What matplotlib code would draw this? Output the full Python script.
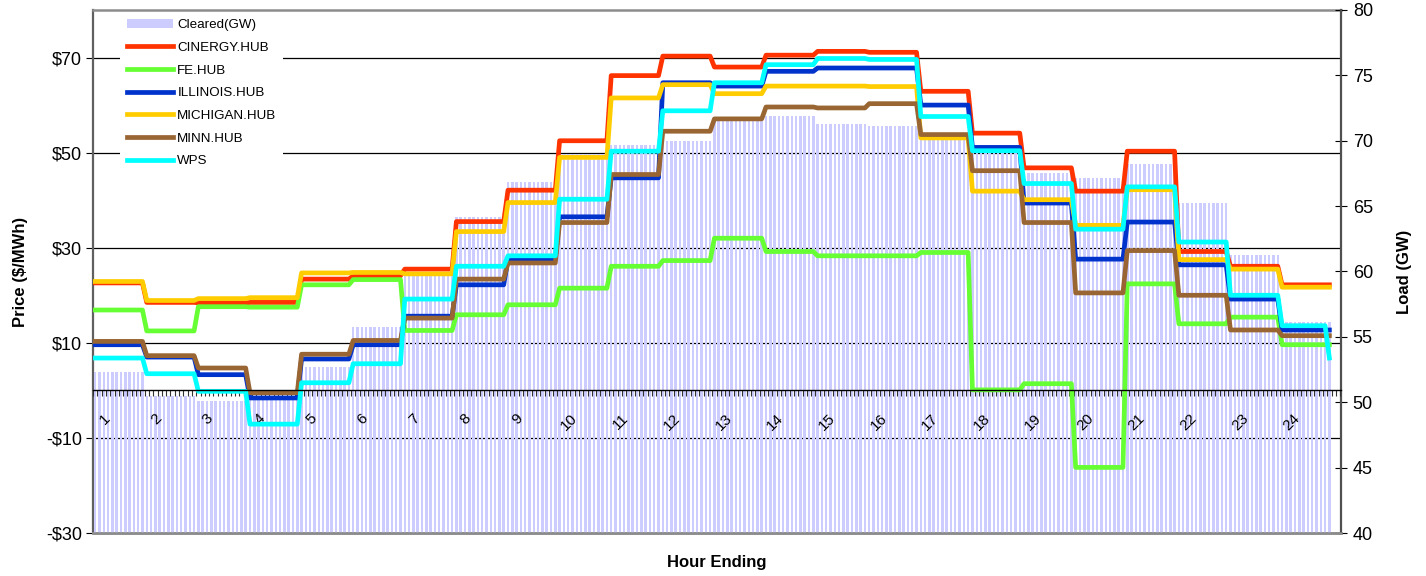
import numpy as np
import matplotlib
matplotlib.use("Agg")
import matplotlib.pyplot as plt
from matplotlib.ticker import MultipleLocator, FixedLocator

plt.rcParams["font.family"] = ["Liberation Sans", "DejaVu Sans"]

# hourly LMPs ($/MWh), hour ending 1..24
hours = [str(h) for h in range(1, 25)]
cinergy = [22.6, 18.5, 18.4, 18.5, 23.4, 24.1, 25.5, 35.5, 42.1, 52.5, 66.2, 70.3,
           68.0, 70.5, 71.3, 71.1, 62.9, 54.1, 46.8, 41.9, 50.3, 29.2, 26.1, 22.2]
fe_hub = [16.9, 12.5, 17.6, 17.5, 22.2, 23.3, 12.6, 15.9, 18.0, 21.5, 26.1, 27.3,
          32.0, 29.2, 28.3, 28.3, 29.0, 0.1, 1.4, -16.2, 22.4, 14.0, 15.4, 9.6]
illinois = [9.6, 7.0, 3.3, -1.6, 6.6, 9.6, 15.6, 22.2, 27.6, 36.5, 44.7, 64.7,
            64.0, 67.1, 67.8, 67.8, 60.0, 51.1, 39.4, 27.6, 35.4, 26.4, 19.2, 12.7]
michigan = [22.9, 18.9, 19.3, 19.5, 24.7, 24.8, 24.5, 33.4, 39.5, 49.0, 61.5, 64.3,
            62.4, 64.0, 64.0, 63.9, 53.1, 41.9, 40.1, 34.7, 42.2, 27.5, 25.5, 21.7]
minn = [10.3, 7.3, 4.7, -0.5, 7.6, 10.5, 15.2, 23.4, 26.8, 35.3, 45.4, 54.5,
        57.1, 59.6, 59.4, 60.3, 53.8, 46.2, 35.3, 20.5, 29.4, 20.0, 12.7, 11.5]
wps = [6.8, 3.5, -0.2, -7.1, 1.6, 5.6, 19.2, 26.1, 28.3, 40.2, 50.3, 58.8,
       64.7, 68.5, 69.8, 69.6, 57.6, 50.4, 43.5, 33.9, 42.8, 31.2, 20.0, 13.6]
wps_last_interval = 6.8

# cleared load (GW)
cleared = [52.3, 50.45, 50.1, 50.4, 52.7, 55.75, 59.8, 64.2, 66.85, 69.0, 69.65, 69.95,
           71.5, 71.9, 71.3, 71.1, 70.05, 69.4, 67.55, 67.15, 68.25, 65.25, 61.25, 56.1]

price_ticks = [-30, -10, 10, 30, 50, 70]
price_labels = ["-$30", "-$10", "$10", "$30", "$50", "$70"]
load_ticks = [40, 45, 50, 55, 60, 65, 70, 75, 80]

series = [
    ("CINERGY.HUB", cinergy, "#FF3300"),
    ("FE.HUB", fe_hub, "#66FF33"),
    ("ILLINOIS.HUB", illinois, "#0033CC"),
    ("MICHIGAN.HUB", michigan, "#FFCC00"),
    ("MINN.HUB", minn, "#996633"),
    ("WPS", wps, "#00FFFF"),
]

# 5-minute intervals, 12 per hour
per_hour = 12
n = 24 * per_hour
x = np.arange(n) + 0.5
xmax = 290.2

fig = plt.figure(figsize=(14.26, 5.76), dpi=100)
rect = [93 / 1426, 43 / 576, 1248 / 1426, 523 / 576]

# base axes: price scale + gridlines
ax = fig.add_axes(rect)
ax.set_xlim(0, xmax)
ax.set_ylim(-30, 80)
ax.set_yticks(price_ticks)
ax.set_yticklabels(price_labels)
ax.tick_params(axis="y", direction="out", length=5, labelsize=13, pad=3)
ax.tick_params(axis="x", length=0, labelbottom=False)
ax.grid(axis="y", color="black", lw=0.9)
ax.set_axisbelow(True)
ax.set_ylabel("Price ($/MWh)", fontsize=12, fontweight="bold", labelpad=13)
ax.set_xlabel("Hour Ending", fontsize=12, fontweight="bold", labelpad=16)
ax.spines["left"].set_color("#606060")
ax.spines["left"].set_linewidth(1.6)
for s in ("top", "bottom"):
    ax.spines[s].set_color("#8c8c8c")
    ax.spines[s].set_linewidth(1.8)
ax.spines["right"].set_visible(False)

# load bars on the right axis
ax2 = ax.twinx()
ax2.set_ylim(40, 80)
ax2.set_yticks(load_ticks)
bars = ax2.bar(x, np.repeat(cleared, per_hour), width=0.58, color="#CCCCFF",
               linewidth=0, antialiased=False, label="Cleared(GW)")
ax2.tick_params(axis="y", direction="inout", length=9, labelsize=13, pad=4)
ax2.set_ylabel("Load (GW)", fontsize=12, fontweight="bold", labelpad=17)
ax2.spines["right"].set_color("#505050")
ax2.spines["right"].set_linewidth(1.6)
ax2.spines["bottom"].set_color("#8c8c8c")
ax2.spines["bottom"].set_linewidth(1.8)
ax2.spines["left"].set_visible(False)
ax2.spines["top"].set_visible(False)

# price lines on top, with the hour axis crossing at $0
ax3 = fig.add_axes(rect)
ax3.patch.set_visible(False)
ax3.set_xlim(0, xmax)
ax3.set_ylim(-30, 80)
ax3.yaxis.set_visible(False)
for s in ("top", "left", "right"):
    ax3.spines[s].set_visible(False)
ax3.spines["bottom"].set_position(("data", 0))
ax3.spines["bottom"].set_color("black")
ax3.spines["bottom"].set_linewidth(1.0)

lines = []
for name, vals, color in series:
    y = np.repeat(vals, per_hour).astype(float)
    if name == "WPS":
        y[-1] = wps_last_interval
    ln, = ax3.plot(x, y, color=color, lw=3.4, label=name, solid_joinstyle="round")
    lines.append(ln)

ax3.xaxis.set_major_locator(FixedLocator(np.arange(24) * per_hour + 2.7))
ax3.set_xticklabels(hours)
ax3.xaxis.set_minor_locator(MultipleLocator(1))
ax3.tick_params(axis="x", which="major", length=0, pad=15, labelsize=11,
                labelrotation=45)
ax3.tick_params(axis="x", which="minor", direction="out", length=4, width=0.8,
                color="#333333")

leg = ax3.legend([bars] + lines, ["Cleared(GW)"] + [s[0] for s in series],
                 loc="upper left", bbox_to_anchor=(0.0216, 0.996),
                 fontsize=9.6, frameon=True, fancybox=False, framealpha=1,
                 facecolor="white", edgecolor="none", borderpad=0.5,
                 borderaxespad=0, handlelength=3.5, handletextpad=0.3,
                 labelspacing=0.78)

fig.savefig("out.png", dpi=100)
